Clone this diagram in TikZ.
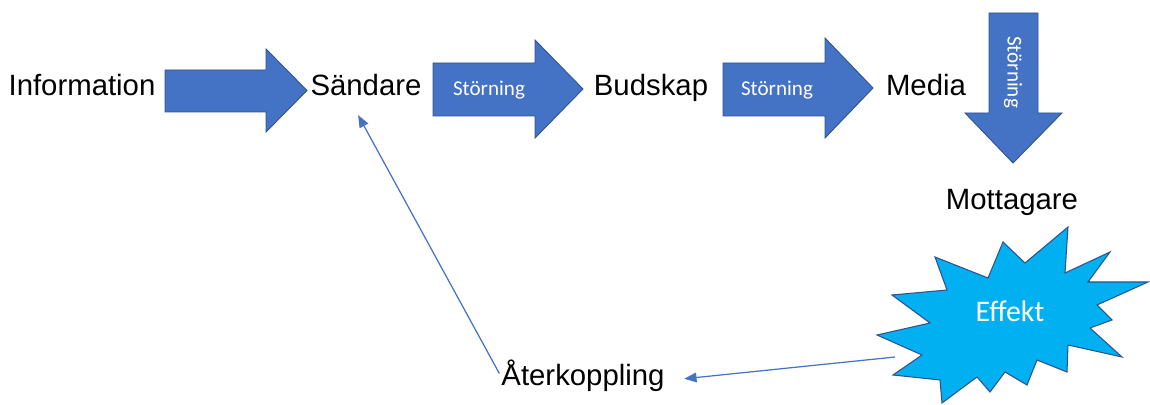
\documentclass[tikz,border=0pt]{standalone}
\usepackage{fontspec}
\setmainfont{Liberation Sans}
\newfontfamily\calibri{Carlito}
\usetikzlibrary{arrows.meta}
\definecolor{arrowblue}{HTML}{4472C4}
\definecolor{edgeblue}{HTML}{2F528F}
\definecolor{burstblue}{HTML}{00B0F0}

\begin{document}
\begin{tikzpicture}[x=0.02cm, y=-0.02cm,
    blockarrow/.style={fill=arrowblue, draw=edgeblue, line width=0.5pt},
    burst/.style={fill=burstblue, draw=edgeblue, line width=0.6pt, line join=miter},
    feedback/.style={draw=arrowblue, line width=0.7pt, -{Triangle[length=7pt, width=5.5pt]}}]
    \useasboundingbox (0,0) rectangle (1150,405);

    % block arrows
    \draw[blockarrow] (165,70) -- (266,70) -- (266,49) -- (307,90.5) -- (266,132)
        -- (266,112) -- (165,112) -- cycle;
    \draw[blockarrow] (433,63) -- (535,63) -- (535,40) -- (583,89) -- (535,138)
        -- (535,116) -- (433,116) -- cycle;
    \draw[blockarrow] (723,63) -- (825,63) -- (825,38) -- (873,88) -- (825,138)
        -- (825,116) -- (723,116) -- cycle;
    \draw[blockarrow] (989,13) -- (1038,13) -- (1038,113) -- (1062,113) -- (1013,163)
        -- (965,113) -- (989,113) -- cycle;

    % starburst
    \draw[burst] (935,257) -- (988,278) -- (1003,242) -- (1025,263) -- (1068,227)
        -- (1065,273) -- (1110,252) -- (1088,282) -- (1148,282) -- (1097,305)
        -- (1112,320) -- (1090,328) -- (1122,357) -- (1068,345) -- (1067,372)
        -- (1037,360) -- (1027,385) -- (1005,372) -- (990,392) -- (977,377)
        -- (942,403) -- (940,380) -- (893,375) -- (922,355) -- (877,335)
        -- (930,323) -- (892,295) -- (947,290) -- cycle;

    \begin{scope}[every node/.style={inner sep=0, anchor=base,
        font=\fontsize{16.7}{20}\selectfont}]
      \node (info) at (82,96) {Information};
      \node (sandare) at (366,96) {Sändare};
      \node (budskap) at (651,96) {Budskap};
      \node (media) at (926,96) {Media};
      \node (mottagare) at (1012,210) {Mottagare};
      \node (aterk) at (583,385) {Återkoppling};
    \end{scope}
    \begin{scope}[every node/.style={inner sep=0, text=white,
        font=\calibri\fontsize{12}{14}\selectfont}]
      \node (storning1) at (489,90) {Störning};
      \node (storning2) at (777,90) {Störning};
      \node[rotate=-90] (storning3) at (1013,72) {Störning};
      \node[font=\calibri\fontsize{17}{20}\selectfont] (effekt) at (1010,311) {Effekt};
    \end{scope}

    \coordinate (burstedge) at (895,357);
    \draw[feedback] (burstedge) -- ([xshift=11pt, yshift=-2pt]aterk.east);
    \draw[feedback] ([xshift=-1pt, yshift=1pt]aterk.west)
        -- ([xshift=-4.5pt, yshift=-10.5pt]sandare.south);
  \end{tikzpicture}
\end{document}
